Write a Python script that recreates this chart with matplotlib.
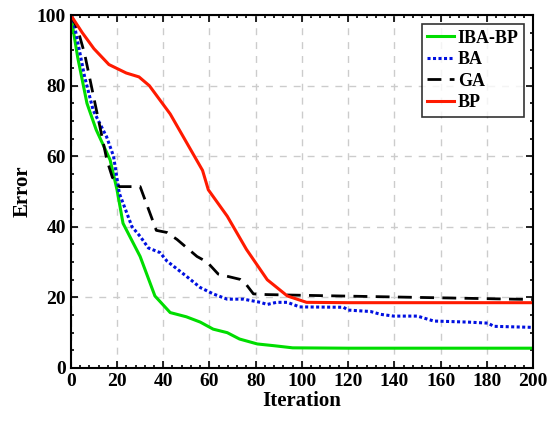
import matplotlib
matplotlib.use('Agg')
import matplotlib.pyplot as plt
from matplotlib.ticker import MultipleLocator

plt.rcParams['font.family'] = 'Liberation Serif'
plt.rcParams['font.weight'] = 'bold'

# IBA-BP (green)
iba_x = [0, 3, 7, 11, 17, 20, 22.6, 30, 36.4, 43, 50, 56, 61.6, 67.7, 73, 80.7, 88, 96, 120, 160, 200]
iba_y = [100, 88, 75, 67.5, 59, 50.5, 41, 31.6, 20.4, 15.7, 14.5, 13, 11, 10, 8.2, 6.8, 6.3, 5.7, 5.6, 5.6, 5.6]

# BA (blue dotted)
ba_x = [0, 1, 6, 9.7, 15.5, 18.5, 21, 26.5, 30, 33.6, 38.6, 41.6, 50, 56, 61.6, 67.6, 74.7, 82, 85, 89, 93.7, 99,
        118, 120, 129.7, 134, 139.7, 150, 157, 171.8, 180.5, 183, 200]
ba_y = [100, 99, 82.5, 73, 65.5, 60, 49.5, 40, 37.3, 34, 32.7, 30.3, 26, 22.8, 21, 19.5, 19.5, 18.6, 18, 18.6, 18.6, 17.3,
        17.2, 16.4, 16, 15.2, 14.7, 14.7, 13.3, 13, 12.7, 11.8, 11.5]

# GA (black dashed)
ga_x = [0, 3, 6, 15.6, 18, 21, 30, 37, 41.6, 46, 54.6, 59, 63.8, 73.3, 75.5, 79, 84.6, 100, 200]
ga_y = [100, 96, 89, 59, 54, 51.4, 51.4, 39, 38.4, 36.4, 31.6, 30, 26.6, 25.1, 24, 21, 20.8, 20.6, 19.4]

# BP (red)
bp_x = [0, 5, 10, 16.5, 24, 29.5, 34, 43, 50, 57, 59.5, 67.7, 76, 85, 93.7, 102, 120, 200]
bp_y = [100, 95, 90.5, 86, 83.6, 82.5, 80, 72, 64, 56, 50.5, 43, 33.6, 25, 20.4, 18.6, 18.5, 18.5]

fig = plt.figure(figsize=(5.53, 4.21), dpi=100)
ax = fig.add_axes([0.128, 0.126, 0.836, 0.838])

ax.plot(iba_x, iba_y, color='#00dd00', lw=2.2, label='IBA-BP')
ax.plot(ba_x, ba_y, color='#0010e0', lw=2.2, ls=(0, (1, 0.8)), label='BA')
ax.plot(ga_x, ga_y, color='black', lw=2.0, ls=(0, (5, 3)), label='GA')
ax.plot(bp_x, bp_y, color='#ff1a00', lw=2.2, label='BP')

ax.set_xlim(0, 200)
ax.set_ylim(0, 100)
ax.xaxis.set_major_locator(MultipleLocator(20))
ax.xaxis.set_minor_locator(MultipleLocator(4))
ax.yaxis.set_major_locator(MultipleLocator(20))
ax.yaxis.set_minor_locator(MultipleLocator(5))
ax.tick_params(which='both', direction='in', top=True, right=True, labelsize=14, width=1.2)
ax.tick_params(which='major', length=5)
ax.tick_params(which='minor', length=2.5)
for s in ax.spines.values():
    s.set_linewidth(1.5)
ax.grid(True, which='major', ls=(0, (5, 5)), color='#cccccc', lw=1.0)

ax.set_xlabel('Iteration', fontsize=15, fontweight='bold', labelpad=1)
ax.set_ylabel('Error', fontsize=15, fontweight='bold', labelpad=3)

leg = ax.legend(loc='upper right', fontsize=13, frameon=True, fancybox=False, edgecolor='black',
                handlelength=1.5, handletextpad=0.2, borderpad=0.3, labelspacing=0.25, borderaxespad=0.5)
leg.get_frame().set_linewidth(1.2)
for t in leg.get_texts():
    t.set_fontweight('bold')

fig.savefig('out.png', dpi=100)
